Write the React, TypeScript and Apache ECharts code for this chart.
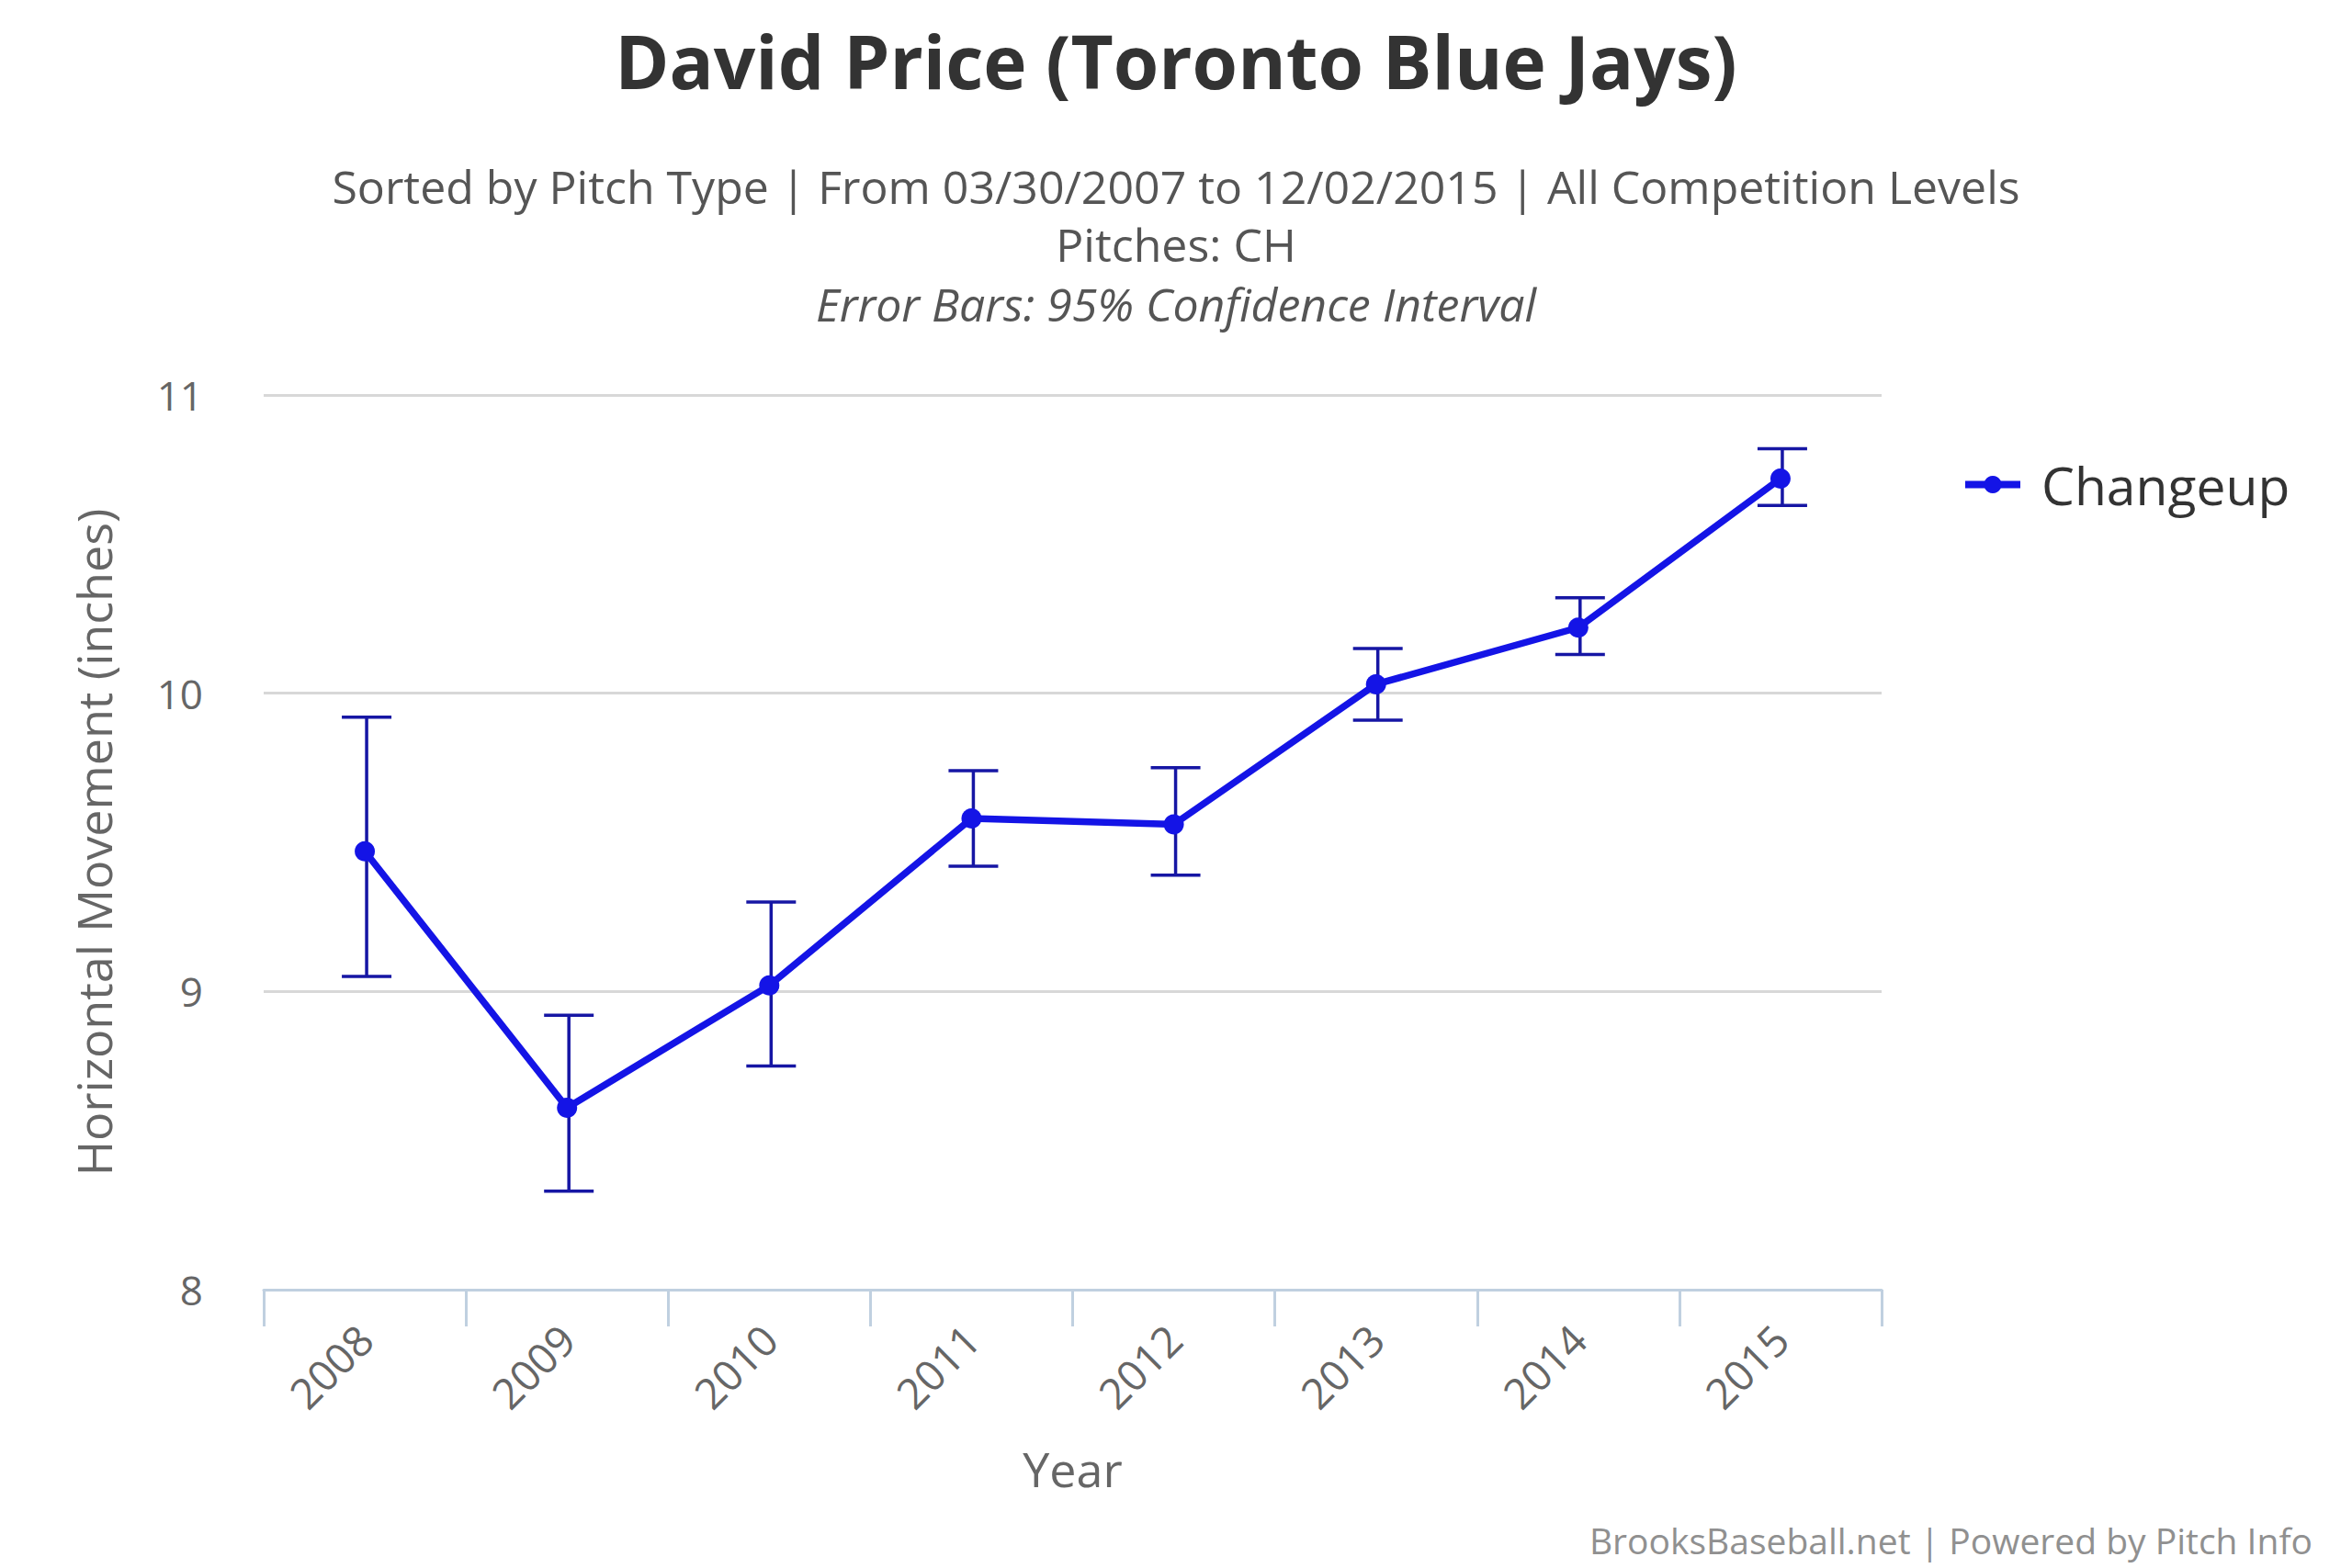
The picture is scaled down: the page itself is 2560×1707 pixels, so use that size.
import React, { useEffect, useRef } from 'react';
import * as echarts from 'echarts';

const years = ['2008', '2009', '2010', '2011', '2012', '2013', '2014', '2015'];
const changeup = [9.47, 8.61, 9.02, 9.58, 9.56, 10.03, 10.22, 10.72];
const ciLow = [9.05, 8.33, 8.75, 9.42, 9.39, 9.91, 10.13, 10.63];
const ciHigh = [9.92, 8.92, 9.30, 9.74, 9.75, 10.15, 10.32, 10.82];
const yTicks = [8, 9, 10, 11];

const FONT = '"Open Sans", "DejaVu Sans", sans-serif';
const LINE_BLUE = '#1414e6';
const BAR_BLUE = '#1616a4';

const App: React.FC = () => {
    const chartRef = useRef<HTMLDivElement>(null);

    useEffect(() => {
        if (!chartRef.current) return;
        const chart = echarts.init(chartRef.current, undefined, { renderer: 'svg' });

        // [x index, lower bound, upper bound] for the 95% CI whiskers
        const errorData = years.map((_, i) => [i, ciLow[i], ciHigh[i]]);

        const option = {
            animation: false,
            backgroundColor: '#ffffff',
            textStyle: { fontFamily: FONT },
            title: [
                {
                    text: 'David Price (Toronto Blue Jays)',
                    left: 'center',
                    top: 20,
                    textStyle: { fontSize: 80, fontWeight: 'bold', color: '#333333', fontFamily: FONT },
                },
                {
                    text: 'Sorted by Pitch Type | From 03/30/2007 to 12/02/2015 | All Competition Levels',
                    left: 'center',
                    top: 173,
                    textStyle: { fontSize: 50, fontWeight: 'normal', color: '#555555', fontFamily: FONT },
                },
                {
                    text: 'Pitches: CH',
                    left: 'center',
                    top: 236,
                    textStyle: { fontSize: 50, fontWeight: 'normal', color: '#555555', fontFamily: FONT },
                },
                {
                    text: 'Error Bars: 95% Confidence Interval',
                    left: 'center',
                    top: 301,
                    textStyle: { fontSize: 50, fontWeight: 'normal', fontStyle: 'italic', color: '#555555', fontFamily: FONT },
                },
                {
                    text: 'BrooksBaseball.net | Powered by Pitch Info',
                    right: 38,
                    top: 1652,
                    textStyle: { fontSize: 39, fontWeight: 'normal', color: '#909090', fontFamily: FONT },
                },
            ],
            legend: {
                data: ['Changeup'],
                left: 2130,
                top: 494,
                itemWidth: 60,
                itemHeight: 24,
                lineStyle: { width: 8 },
                textStyle: { fontSize: 57, color: '#333333', fontFamily: FONT, padding: [0, 0, 0, 18] },
            },
            grid: { left: 287, right: 512, top: 430, bottom: 303 },
            xAxis: {
                type: 'category',
                data: years,
                boundaryGap: true,
                name: 'Year',
                nameLocation: 'middle',
                nameGap: 168,
                nameTextStyle: { fontSize: 52, color: '#666666', fontFamily: FONT },
                axisLine: { lineStyle: { color: '#c0d0e0', width: 3 } },
                axisTick: { show: true, length: 40, lineStyle: { color: '#c0d0e0', width: 3 } },
                axisLabel: { rotate: 45, fontSize: 46, color: '#666666', margin: 46, fontFamily: FONT },
                splitLine: { show: false },
            },
            yAxis: {
                type: 'value',
                min: yTicks[0],
                max: yTicks[yTicks.length - 1],
                interval: 1,
                name: 'Horizontal Movement (inches)',
                nameLocation: 'middle',
                nameGap: 160,
                nameTextStyle: { fontSize: 52, color: '#666666', fontFamily: FONT },
                axisLine: { show: false },
                axisTick: { show: false },
                axisLabel: { fontSize: 44, color: '#666666', margin: 66, fontFamily: FONT },
                splitLine: { lineStyle: { color: '#d8d8d8', width: 3 } },
            },
            series: [
                {
                    name: 'Error',
                    type: 'custom',
                    data: errorData,
                    z: 1,
                    renderItem: (params: any, api: any) => {
                        const x = api.value(0);
                        const lo = api.coord([x, api.value(1)]);
                        const hi = api.coord([x, api.value(2)]);
                        const cx = lo[0] + 2;
                        const half = 27;
                        const style = { stroke: BAR_BLUE, lineWidth: 3.5 };
                        return {
                            type: 'group',
                            children: [
                                { type: 'line', shape: { x1: cx, y1: hi[1], x2: cx, y2: lo[1] }, style },
                                { type: 'line', shape: { x1: cx - half, y1: hi[1], x2: cx + half, y2: hi[1] }, style },
                                { type: 'line', shape: { x1: cx - half, y1: lo[1], x2: cx + half, y2: lo[1] }, style },
                            ],
                        };
                    },
                },
                {
                    name: 'Changeup',
                    type: 'line',
                    data: changeup,
                    z: 2,
                    symbol: 'circle',
                    symbolSize: 22,
                    itemStyle: { color: LINE_BLUE },
                    lineStyle: { color: LINE_BLUE, width: 7.5 },
                },
            ],
        };

        chart.setOption(option);

        return () => {
            chart.dispose();
        };
    }, []);

    return (
        <div
            ref={chartRef}
            style={{ position: 'fixed', left: 0, top: 0, width: '100vw', height: '100vh' }}
        />
    );
};

export default App;
